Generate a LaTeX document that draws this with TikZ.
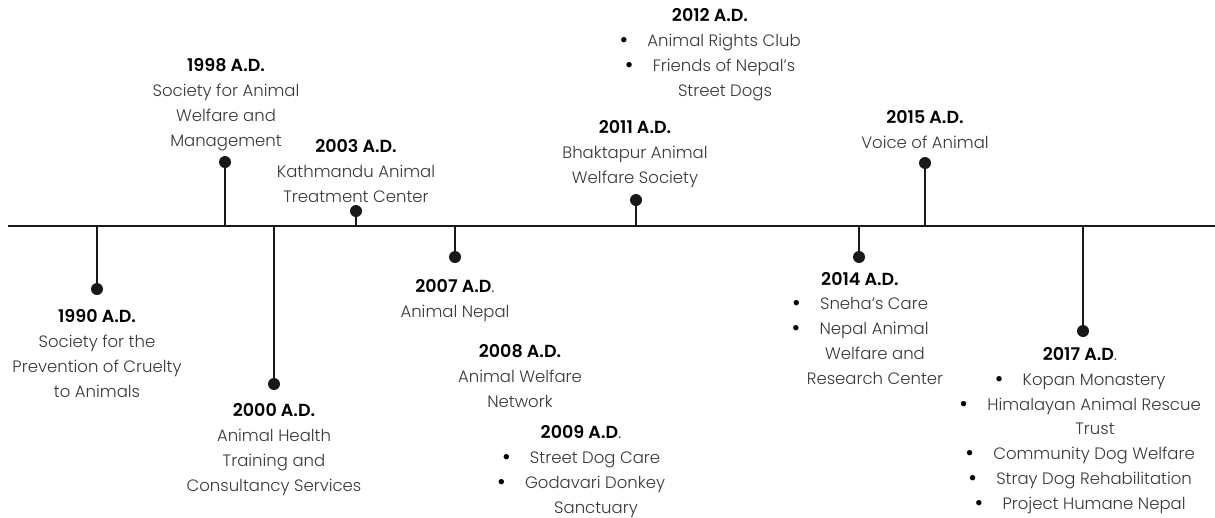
\documentclass[tikz,border=0pt]{standalone}
\usepackage{fontspec}
\IfFontExistsTF{Poppins Light}{%
  \IfFontExistsTF{Poppins SemiBold}{%
    \setmainfont{Poppins Light}[BoldFont=Poppins SemiBold]}{%
    \setmainfont{Poppins Light}[BoldFont=Poppins]}}{%
  \setmainfont{Lato}}
\newcommand\hd[1]{{\bfseries\color{black}\fontsize{17.5}{24.7}\selectfont #1}}
\newcommand\lp{{\fontsize{17.5}{24.7}\selectfont .}}
\newcommand\bl{{\bfseries\color{black}\fontsize{19}{24.7}\selectfont\textbullet}\hspace{19pt}}
\newcommand\cn{\hspace*{30pt}}
\tikzset{
  tline/.style={line width=2.3pt, black!90},
  stemline/.style={line width=2.2pt, black!90},
  dotnode/.style={circle, fill=black!90, inner sep=0pt, minimum size=12pt},
  lbl/.style={align=center, anchor=base, inner sep=0pt,
    font=\fontsize{16.5}{24.7}\selectfont, text=black!78},
}
\begin{document}
\begin{tikzpicture}[x=1pt,y=-1pt]
\useasboundingbox (0,0) rectangle (1215,517);
\coordinate (tlL) at (8,226);
\coordinate (tlR) at (1215,226);
\draw[tline] (tlL) -- (tlR);

% dots
\node[dotnode] (d1990) at (97,289) {};
\node[dotnode] (d1998) at (225,162) {};
\node[dotnode] (d2000) at (274,384) {};
\node[dotnode] (d2003) at (356,211) {};
\node[dotnode] (d2007) at (455,257) {};
\node[dotnode] (d2011) at (636,200) {};
\node[dotnode] (d2014) at (859,257) {};
\node[dotnode] (d2015) at (925,163) {};
\node[dotnode] (d2017) at (1083,331) {};

\foreach \d in {d1990,d1998,d2000,d2003,d2007,d2011,d2014,d2015,d2017}
  \draw[stemline] (\d.center) -- (\d.center |- tlL);

% labels (anchored at the baseline of their last line)
\node[lbl] (t1990) at (97,397) {\hd{1990 A.D.}\\Society for the\\Prevention of Cruelty\\to Animals};
\node[lbl] (t1998) at (226,146) {\hd{1998 A.D.}\\Society for Animal\\Welfare and\\Management};
\node[lbl] (t2000) at (274,491) {\hd{2000 A.D.}\\Animal Health\\Training and\\Consultancy Services};
\node[lbl] (t2003) at (356,202) {\hd{2003 A.D.}\\Kathmandu Animal\\Treatment Center};
\node[lbl] (t2007) at (455,317) {\hd{2007 A.D}\lp\\Animal Nepal};
\node[lbl] (t2008) at (520,407) {\hd{2008 A.D.}\\Animal Welfare\\Network};
\node[lbl] (t2009) at (581,513) {\hd{2009 A.D}\lp\\\bl Street Dog Care\\\bl Godavari Donkey\\\cn Sanctuary};
\node[lbl] (t2011) at (635,183) {\hd{2011 A.D.}\\Bhaktapur Animal\\Welfare Society};
\node[lbl] (t2012) at (710,96) {\hd{2012 A.D.}\\\bl Animal Rights Club\\\bl Friends of Nepal’s\\\cn Street Dogs};
\node[lbl] (t2014) at (860,384) {\hd{2014 A.D.}\\\bl Sneha’s Care\\\bl Nepal Animal\\\cn Welfare and\\\cn Research Center};
\node[lbl] (t2015) at (925,148) {\hd{2015 A.D.}\\Voice of Animal};
\node[lbl] (t2017) at (1080,509) {\hd{2017 A.D}\lp\\\bl Kopan Monastery\\\bl Himalayan Animal Rescue\\\cn Trust\\\bl Community Dog Welfare\\\bl Stray Dog Rehabilitation\\\bl Project Humane Nepal};
\end{tikzpicture}
\end{document}
